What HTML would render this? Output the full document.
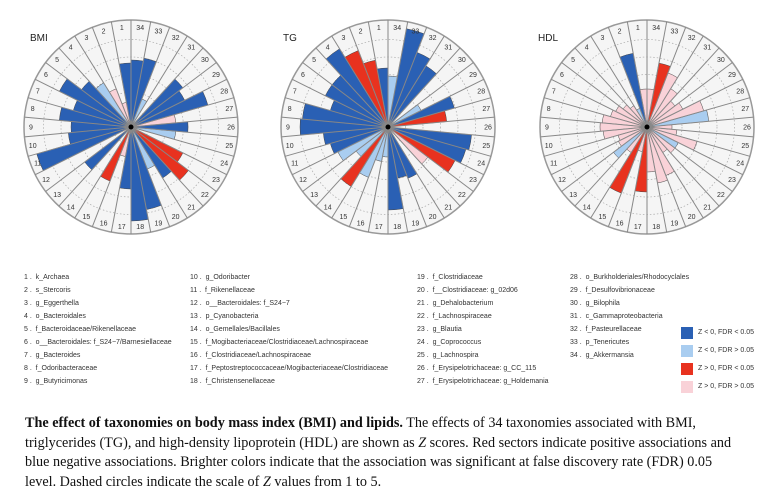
<!DOCTYPE html>
<html><head><meta charset="utf-8"><style>
body{margin:0;background:#fff;width:776px;height:500px;overflow:hidden;position:relative;font-family:"Liberation Sans",sans-serif}
.lg{position:absolute;font-size:7px;color:#333;white-space:nowrap}
.cap{position:absolute;left:25px;top:414px;font-family:"Liberation Serif",serif;font-size:14.2px;line-height:19.6px;color:#111;white-space:nowrap}
</style></head><body>
<svg id="s" width="776" height="250" style="position:absolute;left:0;top:0"></svg>
<div id="leg"></div>
<div class="cap"><b>The effect of taxonomies on body mass index (BMI) and lipids.</b> The effects of 34 taxonomies associated with BMI,<br>triglycerides (TG), and high-density lipoprotein (HDL) are shown as <i>Z</i> scores. Red sectors indicate positive associations and<br>blue negative associations. Brighter colors indicate that the association was significant at false discovery rate (FDR) 0.05<br>level. Dashed circles indicate the scale of <i>Z</i> values from 1 to 5.</div>
<script>
var C={b:"#2a60b4",l:"#a9cdf0",r:"#e8321f",p:"#f9d2d8"};
var charts=[
{t:"BMI",cx:131,cy:127,tx:30,d:{1:["b",64],2:["p",25],3:["p",41],4:["l",52],5:["b",62],6:["b",80],7:["b",60],8:["b",72],9:["b",60],10:["b",63],11:["b",98],13:["b",58],15:["r",58],16:["p",30],17:["b",62],18:["b",94],19:["b",84],20:["l",45],21:["b",60],22:["r",72],23:["r",58],25:["l",45],26:["b",57],27:["p",45],28:["b",80],29:["b",60],30:["b",65],32:["l",30],33:["b",70],34:["b",67]}},
{t:"TG",cx:388,cy:127,tx:283,d:{1:["b",59],2:["r",68],3:["r",82],4:["b",92],5:["b",70],6:["b",70],7:["b",60],8:["b",86],9:["b",88],10:["b",65],11:["b",60],12:["l",56],13:["l",40],14:["r",70],15:["l",54],16:["l",35],17:["l",30],18:["b",83],19:["b",52],20:["b",55],22:["p",50],23:["r",75],24:["b",81],25:["b",84],27:["r",59],28:["b",69],29:["l",37],31:["b",72],32:["b",80],33:["b",100],34:["l",51]}},
{t:"HDL",cx:647,cy:127,tx:538,d:{1:["p",38],2:["b",75],3:["l",20],4:["p",25],5:["p",30],6:["p",35],7:["p",38],8:["p",45],9:["p",47],10:["p",44],11:["p",30],12:["p",32],13:["l",42],14:["p",30],15:["r",71],16:["p",25],17:["r",65],18:["p",45],19:["p",57],20:["p",52],21:["p",30],22:["p",35],23:["l",35],24:["p",52],25:["p",30],26:["p",25],27:["l",62],28:["p",59],29:["p",40],30:["p",35],31:["p",45],32:["p",58],33:["r",65],34:["p",38]}}];
var R=107,N=34,W=2*Math.PI/N,h="";
function pt(cx,cy,r,a){return [cx+r*Math.sin(a),cy-r*Math.cos(a)];}
charts.forEach(function(c){
 h+='<circle cx="'+c.cx+'" cy="'+c.cy+'" r="'+R+'" fill="#f5f5f5" stroke="#999" stroke-width="1.5"/>';
 for(var k=1;k<=5;k++)h+='<circle cx="'+c.cx+'" cy="'+c.cy+'" r="'+(k*17.5)+'" fill="none" stroke="#aaa" stroke-width="0.7" stroke-dasharray="1.5,2"/>';
 for(var i=1;i<=N;i++){
  var a0=-(i-1)*W,a1=-i*W;
  if(c.d[i]){var v=c.d[i],p0=pt(c.cx,c.cy,v[1],a0),p1=pt(c.cx,c.cy,v[1],a1);
   h+='<path d="M'+c.cx+','+c.cy+'L'+p0[0].toFixed(1)+','+p0[1].toFixed(1)+'A'+v[1]+','+v[1]+' 0 0 0 '+p1[0].toFixed(1)+','+p1[1].toFixed(1)+'Z" fill="'+C[v[0]]+'" stroke="#444" stroke-width="0.5"/>';}
 }
 for(var i=0;i<N;i++){var q=pt(c.cx,c.cy,R,-i*W);h+='<line x1="'+c.cx+'" y1="'+c.cy+'" x2="'+q[0].toFixed(1)+'" y2="'+q[1].toFixed(1)+'" stroke="#888" stroke-width="1"/>';}
 for(var i=1;i<=N;i++){var q=pt(c.cx,c.cy,100,-(i-0.5)*W);h+='<text x="'+q[0].toFixed(1)+'" y="'+(q[1]+2.5).toFixed(1)+'" font-size="7" text-anchor="middle" fill="#333">'+i+'</text>';}
 h+='<circle cx="'+c.cx+'" cy="'+c.cy+'" r="2.5" fill="#000"/>';
 h+='<text x="'+c.tx+'" y="41" font-size="10" fill="#222">'+c.t+'</text>';
});
document.getElementById("s").innerHTML=h;
var L=["k_Archaea","s_Stercoris","g_Eggerthella","o_Bacteroidales","f_Bacteroidaceae/Rikenellaceae","o__Bacteroidales: f_S24\u22127/Barnesiellaceae","g_Bacteroides","f_Odoribacteraceae","g_Butyricimonas","g_Odoribacter","f_Rikenellaceae","o__Bacteroidales: f_S24\u22127","p_Cyanobacteria","o_Gemellales/Bacillales","f_Mogibacteriaceae/Clostridiaceae/Lachnospiraceae","f_Clostridiaceae/Lachnospiraceae","f_Peptostreptococcaceae/Mogibacteriaceae/Clostridiaceae","f_Christensenellaceae","f_Clostridiaceae","f__Clostridiaceae: g_02d06","g_Dehalobacterium","f_Lachnospiraceae","g_Blautia","g_Coprococcus","g_Lachnospira","f_Erysipelotrichaceae: g_CC_115","f_Erysipelotrichaceae: g_Holdemania","o_Burkholderiales/Rhodocyclales","f_Desulfovibrionaceae","g_Bilophila","c_Gammaproteobacteria","f_Pasteurellaceae","p_Tenericutes","g_Akkermansia"];
var xs=[24,190,417,570],g="";
L.forEach(function(n,i){var col=Math.floor(i/9),row=i%9;g+='<div class="lg" style="left:'+xs[col]+'px;top:'+(274+row*13)+'px">'+(i+1)+' .&nbsp; '+n+'</div>';});
var K=[["b","Z &lt; 0, FDR &lt; 0.05"],["l","Z &lt; 0, FDR &gt; 0.05"],["r","Z &gt; 0, FDR &lt; 0.05"],["p","Z &gt; 0, FDR &gt; 0.05"]];
K.forEach(function(k,i){var y=327+i*18;g+='<div style="position:absolute;left:681px;top:'+y+'px;width:12px;height:12px;background:'+C[k[0]]+'"></div><div class="lg" style="left:698px;top:'+(y+2)+'px">'+k[1]+'</div>';});
document.getElementById("leg").innerHTML=g;
</script>
</body></html>
